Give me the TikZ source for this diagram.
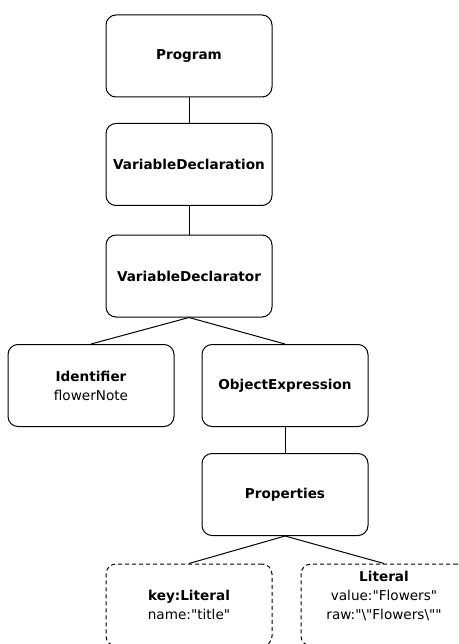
\documentclass[tikz,border=0pt]{standalone}
\usepackage{fontspec}
\setmainfont{DejaVu Sans}[Ligatures=TeXOff]
\begin{document}
\begin{tikzpicture}[x=1pt,y=-1pt,
  astbox/.style={draw, line width=1pt, rounded corners=10pt, minimum width=166pt, minimum height=82pt, align=center, font=\fontsize{13.6}{19}\selectfont, inner sep=2pt},
  dashbox/.style={astbox, dash pattern=on 4pt off 3pt},
  edge/.style={line width=1pt}]
\useasboundingbox (0,0) rectangle (458,644);
\clip (0,0) rectangle (458,644);
\node[astbox] (prog) at (189,56) {\textbf{Program}};
\node[astbox] (vdecl) at (189,164.5) {\textbf{VariableDeclaration}};
\node[astbox] (vdtor) at (189,276) {\textbf{VariableDeclarator}};
\node[astbox] (ident) at (91,385.5) {\textbf{Identifier}\\flowerNote};
\node[astbox] (objex) at (285,385.5) {\textbf{ObjectExpression}};
\node[astbox] (props) at (285,494.5) {\textbf{Properties}};
\node[dashbox] (keylit) at (189,605) {\textbf{key:Literal}\\name:"title"};
\node[dashbox] (lit) at (384,605) {\textbf{Literal}\\value:"Flowers"\\raw:"\textbackslash"Flowers\textbackslash""\\\mbox{}};
\draw[edge] (prog.south) -- (vdecl.north);
\draw[edge] (vdecl.south) -- (vdtor.north);
\draw[edge] (vdtor.south) -- (ident.north);
\draw[edge] (vdtor.south) -- (objex.north);
\draw[edge] (objex.south) -- (props.north);
\draw[edge] (props.south) -- (keylit.north);
\draw[edge] (props.south) -- (lit.north);
\end{tikzpicture}
\end{document}
